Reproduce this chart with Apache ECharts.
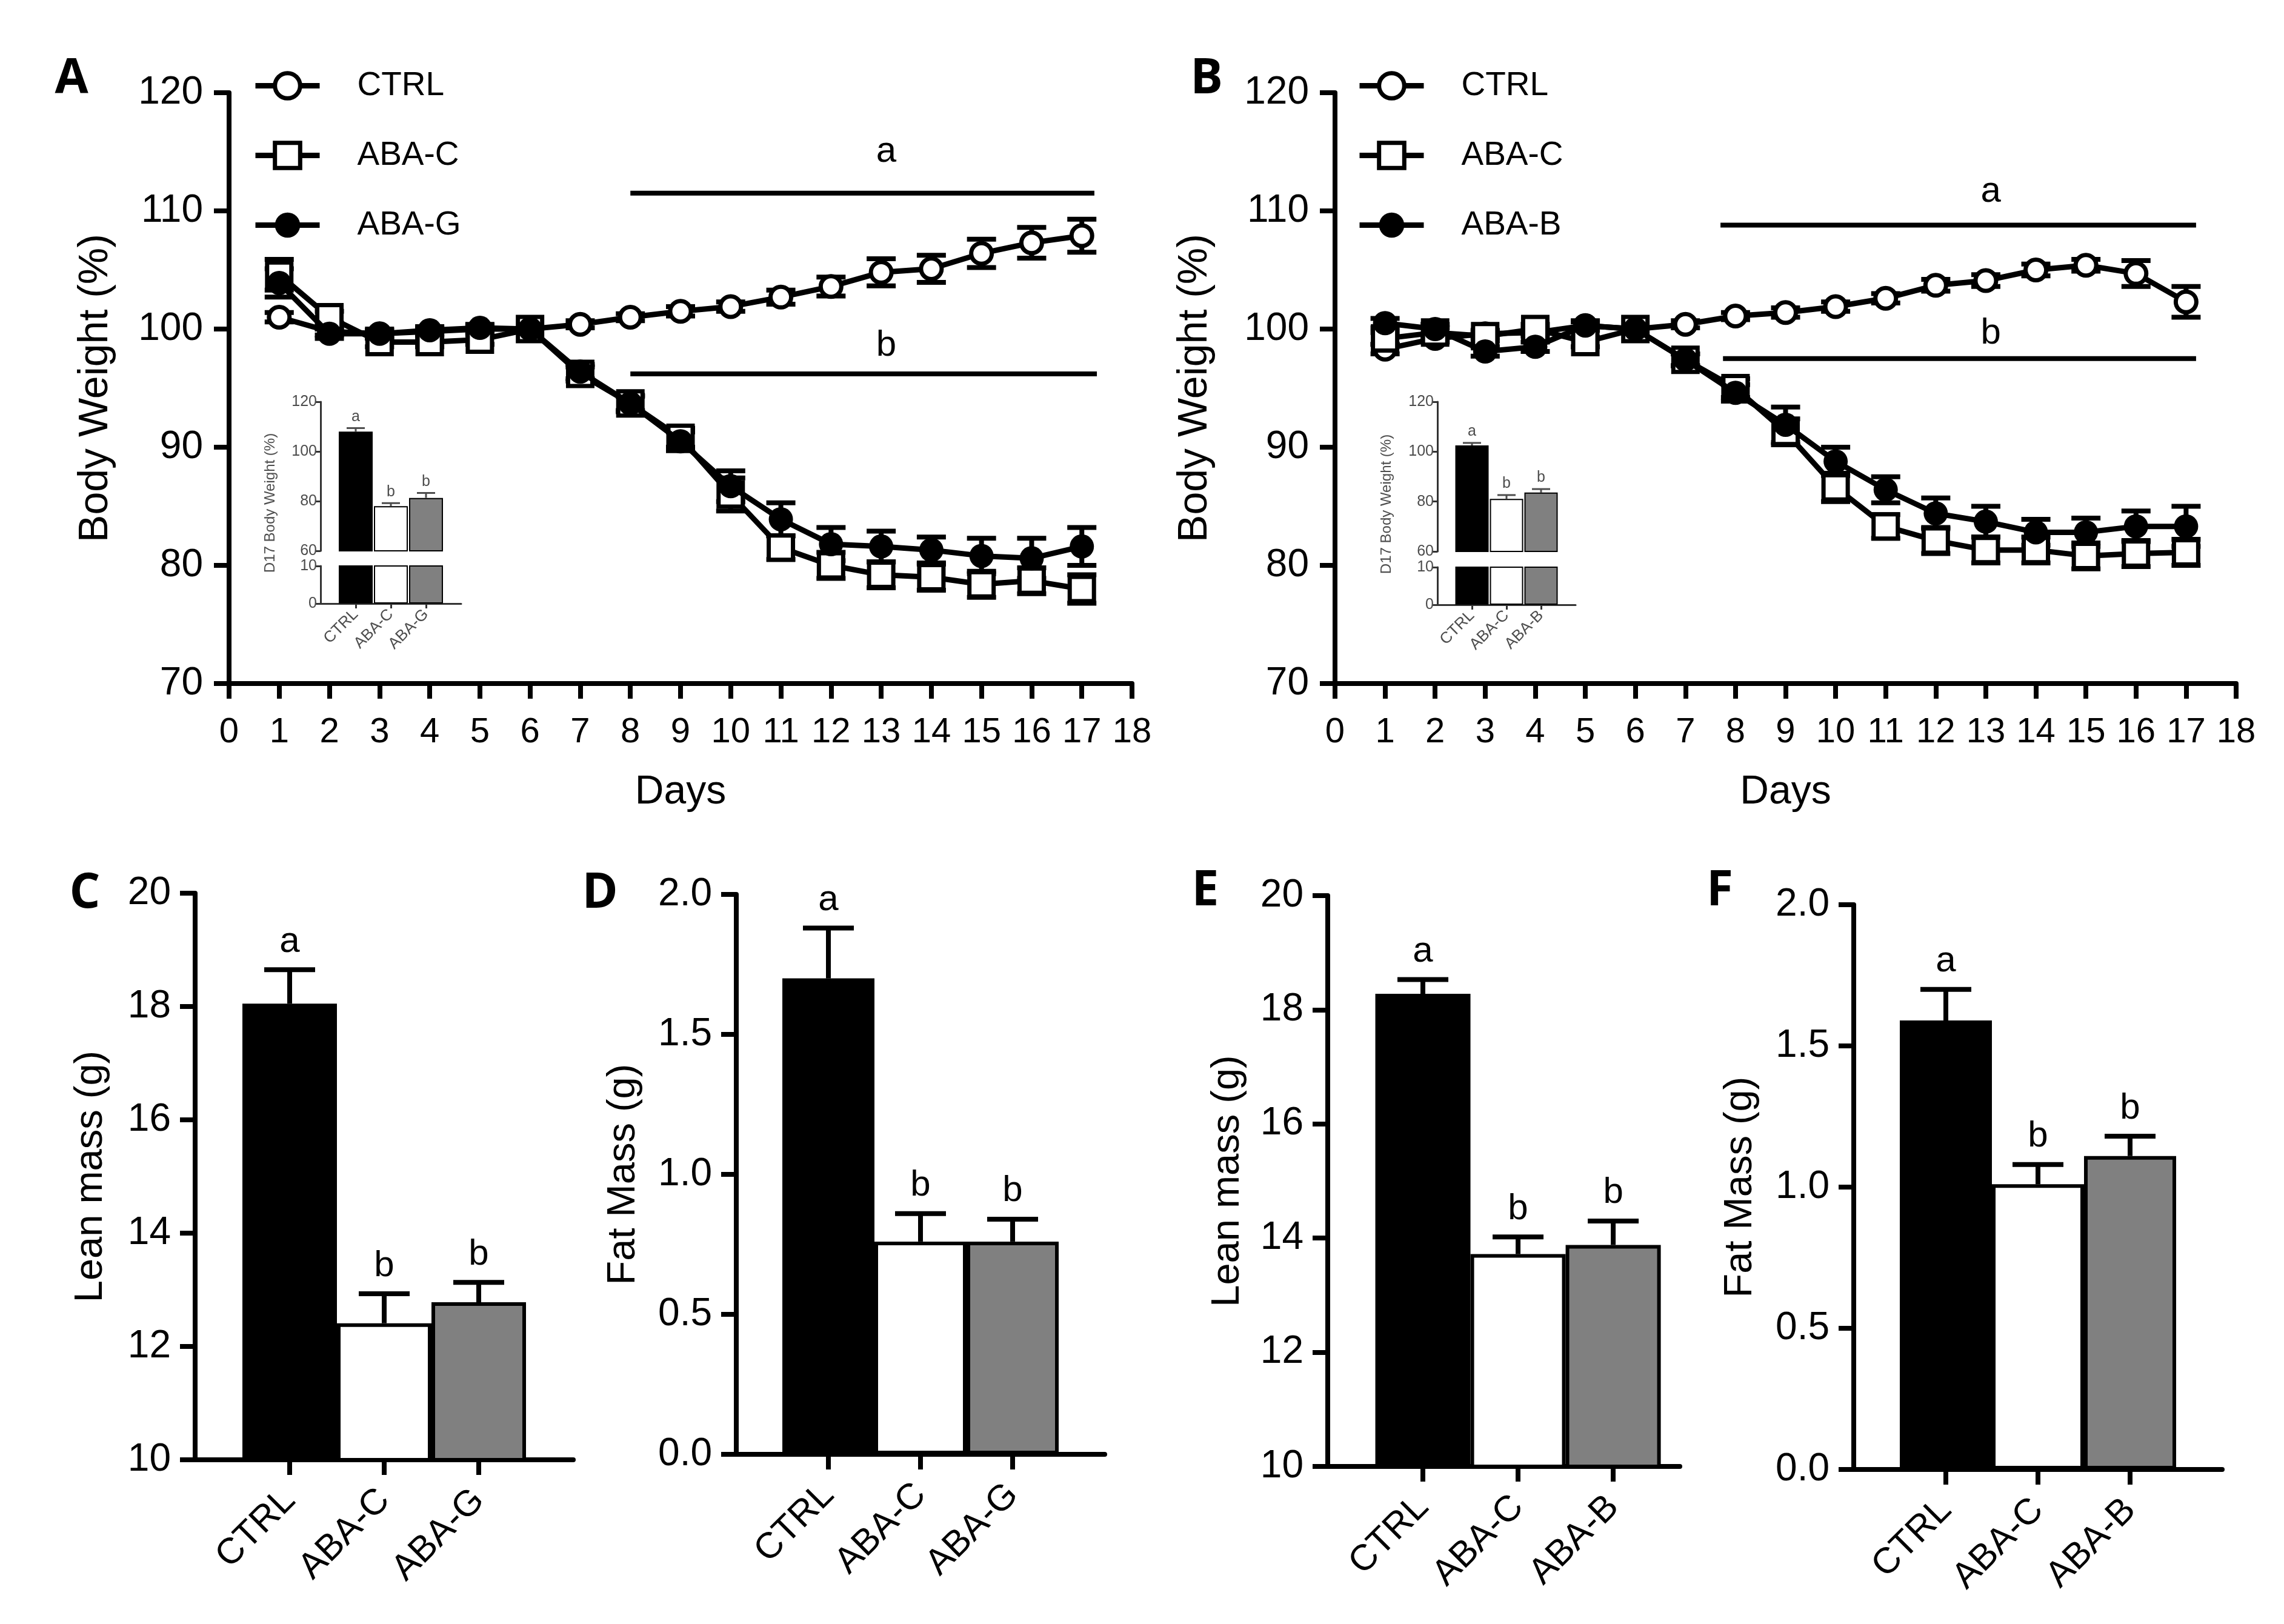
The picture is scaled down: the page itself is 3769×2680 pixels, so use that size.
<!DOCTYPE html>
<html>
<head>
<meta charset="utf-8">
<title>Body weight and body composition</title>
<script src="https://cdn.jsdelivr.net/npm/echarts@6/dist/echarts.min.js"></script>
<style>
html, body { margin: 0; padding: 0; background: #fff; }
#main { width: 3769px; height: 2680px; }
</style>
</head>
<body>
<div id="main"></div>
<script>
// days of the protocol
var days = [1, 2, 3, 4, 5, 6, 7, 8, 9, 10, 11, 12, 13, 14, 15, 16, 17];

// panel A: body weight (% of day 6)
var ctrlA = [101.0, 99.8, 99.6, 99.8, 100.0, 100.0, 100.4, 101.0, 101.5, 101.9, 102.7, 103.6, 104.8, 105.1, 106.4, 107.3, 107.9];
var ctrlAErr = [0.4, 0.3, 0.3, 0.3, 0.3, 0, 0.3, 0.3, 0.4, 0.4, 0.6, 0.8, 1.15, 1.15, 1.2, 1.3, 1.4];
var abacA = [104.6, 101.0, 98.9, 98.9, 99.1, 100.0, 96.2, 93.7, 90.8, 86.0, 81.5, 80.0, 79.2, 79.0, 78.4, 78.7, 78.0];
var abacAErr = [1.3, 0.5, 0.4, 0.4, 0.4, 0, 0.6, 0.6, 0.8, 1.4, 1.0, 1.1, 1.1, 1.1, 1.1, 1.1, 1.2];
var abagA = [103.9, 99.6, 99.6, 99.9, 100.1, 100.0, 96.4, 93.7, 90.5, 86.7, 83.9, 81.8, 81.6, 81.3, 80.8, 80.6, 81.6];
var abagAErr = [1.2, 0.4, 0.4, 0.3, 0.3, 0, 0.6, 0.7, 0.8, 1.3, 1.4, 1.4, 1.3, 1.1, 1.5, 1.7, 1.6];

// panel B
var ctrlB = [98.3, 99.2, 99.6, 99.7, 100.3, 100.0, 100.4, 101.1, 101.4, 101.9, 102.6, 103.7, 104.1, 105.0, 105.4, 104.7, 102.3];
var ctrlBErr = [0.4, 0.3, 0.3, 0.3, 0.3, 0, 0.3, 0.3, 0.4, 0.4, 0.4, 0.5, 0.5, 0.5, 0.5, 1.1, 1.3];
var abacB = [99.2, 99.7, 99.4, 100.0, 98.9, 100.0, 97.4, 95.0, 91.3, 86.6, 83.3, 82.1, 81.3, 81.3, 80.8, 81.0, 81.1];
var abacBErr = [0.5, 0.4, 0.4, 0.4, 0.4, 0, 0.5, 0.8, 1.1, 1.2, 1.0, 1.1, 1.1, 1.1, 1.1, 1.1, 1.1];
var ababB = [100.5, 100.0, 98.1, 98.5, 100.3, 100.0, 97.4, 94.6, 91.9, 88.8, 86.4, 84.4, 83.7, 82.8, 82.8, 83.3, 83.3];
var ababBErr = [0.4, 0.4, 0.4, 0.4, 0.4, 0, 0.5, 0.7, 1.5, 1.2, 1.1, 1.3, 1.3, 1.1, 1.2, 1.3, 1.7];

// significance bars over the curves
var sigText = ['a', 'b'];
var sigFromA = [8.0, 8.0], sigToA = [17.25, 17.3], sigYA = [111.5, 96.2], sigTextYA = [115.0, 98.6];
var sigFromB = [7.7, 7.75], sigToB = [17.2, 17.2], sigYB = [108.8, 97.5], sigTextYB = [111.6, 99.6];
var sigTextX = [13.1, 13.1];

// groups
var groupsG = ['CTRL', 'ABA-C', 'ABA-G'];
var groupsB = ['CTRL', 'ABA-C', 'ABA-B'];
var barFills = ['#000000', '#ffffff', '#808080'];
var letters = ['a', 'b', 'b'];

// insets: day 17 body weight (%)
var d17A = [108.0, 78.0, 81.3], d17AErr = [1.4, 1.2, 2.0];
var d17B = [102.5, 81.1, 83.6], d17BErr = [1.0, 1.5, 1.4];

// panels C-F: body composition (g)
var leanG = [18.05, 12.41, 12.78], leanGErr = [0.60, 0.52, 0.35];
var fatG = [1.70, 0.76, 0.76], fatGErr = [0.18, 0.10, 0.08];
var leanB = [18.28, 13.72, 13.88], leanBErr = [0.25, 0.30, 0.42];
var fatB = [1.59, 1.01, 1.11], fatBErr = [0.11, 0.07, 0.07];

var FONT = '"Liberation Sans", Arial, Helvetica, sans-serif';
var INK = '#000';
var INSET_INK = '#4d4d4d';

var chart = echarts.init(document.getElementById('main'));

function zip3(xs, ys, es) {
    var out = [];
    for (var i = 0; i < ys.length; i++) {
        out.push([xs[i], ys[i], es[i]]);
    }
    return out;
}

function barData(vals) {
    return vals.map(function (v, i) {
        return {value: [i + 1, v], itemStyle: {color: barFills[i]}};
    });
}

function errRender(capWidth, lineWidth, upOnly, labels, labelSize, labelGap, color) {
    return function (params, api) {
        var x = api.value(0), y = api.value(1), e = api.value(2);
        var hi = api.coord([x, y + e]);
        var lo = api.coord([x, upOnly ? y : y - e]);
        var half = capWidth / 2;
        var st = {stroke: color, lineWidth: lineWidth};
        var kids = [];
        if (e > 0) {
            kids.push({type: 'line', shape: {x1: hi[0], y1: hi[1], x2: lo[0], y2: lo[1]}, style: st});
            kids.push({type: 'line', shape: {x1: hi[0] - half, y1: hi[1], x2: hi[0] + half, y2: hi[1]}, style: st});
            if (!upOnly) {
                kids.push({type: 'line', shape: {x1: lo[0] - half, y1: lo[1], x2: lo[0] + half, y2: lo[1]}, style: st});
            }
        }
        if (labels) {
            kids.push({
                type: 'text', x: hi[0], y: hi[1] - labelGap,
                style: {text: labels[params.dataIndex], fill: color, fontSize: labelSize, fontFamily: FONT,
                        align: 'center', verticalAlign: 'bottom'}
            });
        }
        return {type: 'group', children: kids};
    };
}

function sigRender(from, to, yLine, yText) {
    return function (params, api) {
        var i = params.dataIndex;
        var a = api.coord([from[i], yLine[i]]);
        var b = api.coord([to[i], yLine[i]]);
        var t = api.coord([sigTextX[i], yText[i]]);
        return {type: 'group', children: [
            {type: 'line', shape: {x1: a[0], y1: a[1], x2: b[0], y2: b[1]}, style: {stroke: INK, lineWidth: 8}},
            {type: 'text', x: t[0], y: t[1], style: {text: sigText[i], fill: INK, fontSize: 60, fontFamily: FONT,
                align: 'center', verticalAlign: 'middle'}}
        ]};
    };
}

function errSeries(gi, data, render, z) {
    return {type: 'custom', xAxisIndex: gi, yAxisIndex: gi, data: data, renderItem: render,
            encode: {x: 0, y: 1}, silent: true, z: z};
}

// big axes for the weight curves
function dayAxis(gi) {
    return {
        type: 'value', gridIndex: gi, min: 0, max: 18, interval: 1,
        name: 'Days', nameLocation: 'middle', nameGap: 147,
        nameTextStyle: {fontSize: 66, color: INK, fontFamily: FONT},
        axisLine: {onZero: false, lineStyle: {color: INK, width: 8}},
        axisTick: {length: 25, lineStyle: {color: INK, width: 8}},
        axisLabel: {fontSize: 58, color: INK, fontFamily: FONT, margin: 52},
        splitLine: {show: false}
    };
}

function weightAxis(gi, gap) {
    return {
        type: 'value', gridIndex: gi, min: 70, max: 120, interval: 10,
        name: 'Body Weight (%)', nameLocation: 'middle', nameGap: gap,
        nameTextStyle: {fontSize: 68, color: INK, fontFamily: FONT},
        axisLine: {show: true, lineStyle: {color: INK, width: 8}},
        axisTick: {show: true, length: 25, lineStyle: {color: INK, width: 8}},
        axisLabel: {fontSize: 64, color: INK, fontFamily: FONT, margin: 43},
        splitLine: {show: false}
    };
}

// small inset axes
function insetXHidden(gi) {
    return {type: 'value', gridIndex: gi, min: 0, max: 4, show: false};
}
function insetX(gi, names) {
    return {
        type: 'value', gridIndex: gi, min: 0, max: 4,
        axisLine: {onZero: false, lineStyle: {color: '#333', width: 3}},
        axisTick: {customValues: [1, 2, 3], length: 8, lineStyle: {color: '#333', width: 3}},
        axisLabel: {customValues: [1, 2, 3], rotate: 45, fontSize: 26, color: INSET_INK, fontFamily: FONT, margin: 14,
                    formatter: function (v) { return names[Math.round(v) - 1]; }},
        splitLine: {show: false}
    };
}
function insetY(gi, min, max, step) {
    return {
        type: 'value', gridIndex: gi, min: min, max: max, interval: step,
        axisLine: {show: true, lineStyle: {color: '#333', width: 3}},
        axisTick: {show: true, length: 8, lineStyle: {color: '#333', width: 3}},
        axisLabel: {fontSize: 25, color: INSET_INK, fontFamily: FONT, margin: 6},
        splitLine: {show: false}
    };
}

// bar panel axes
function groupAxis(gi, names, max) {
    return {
        type: 'value', gridIndex: gi, min: 0, max: max,
        axisLine: {onZero: false, lineStyle: {color: INK, width: 8}},
        axisTick: {customValues: [1, 2, 3], length: 25, lineStyle: {color: INK, width: 8}},
        axisLabel: {customValues: [1, 2, 3], rotate: 45, fontSize: 60, color: INK, fontFamily: FONT, margin: 58,
                    formatter: function (v) { return names[Math.round(v) - 1]; }},
        splitLine: {show: false}
    };
}
function massAxis(gi, title, min, max, step, digits, gap) {
    return {
        type: 'value', gridIndex: gi, min: min, max: max, interval: step,
        name: title, nameLocation: 'middle', nameGap: gap,
        nameTextStyle: {fontSize: 65, color: INK, fontFamily: FONT},
        axisLine: {show: true, lineStyle: {color: INK, width: 8}},
        axisTick: {show: true, length: 25, lineStyle: {color: INK, width: 8}},
        axisLabel: {fontSize: 64, color: INK, fontFamily: FONT, margin: 40,
                    formatter: function (v) { return v.toFixed(digits); }},
        splitLine: {show: false}
    };
}

function curve(name, gi, ys, symbol, size, fill, z) {
    return {
        name: name, type: 'line', xAxisIndex: gi, yAxisIndex: gi,
        data: days.map(function (d, i) { return [d, ys[i]]; }),
        symbol: symbol, symbolSize: size, showAllSymbol: true,
        lineStyle: {color: INK, width: 9},
        itemStyle: {color: fill, borderColor: INK, borderWidth: fill === '#000' ? 0 : 7, opacity: 1},
        z: z
    };
}

function bars(gi, vals, width, border) {
    return {
        type: 'bar', xAxisIndex: gi, yAxisIndex: gi, data: barData(vals),
        barWidth: width, itemStyle: {borderColor: INK, borderWidth: border}, z: 2
    };
}

function legendFor(left, names) {
    return {
        orient: 'vertical', left: left, top: 114, padding: 0,
        itemWidth: 106, itemHeight: 52, itemGap: 60, selectedMode: false,
        data: names.map(function (n) {
            return n === 'CTRL' || n === 'ABA-C' ? {name: n} : {name: n, itemStyle: {borderWidth: 0}};
        }),
        itemStyle: {borderWidth: 7},
        lineStyle: {width: 9},
        textStyle: {fontSize: 55, color: INK, fontFamily: FONT, padding: [0, 0, 0, 57]}
    };
}

function panelLetter(t, x, y) {
    return {type: 'text', x: x, y: y, style: {text: t, fill: INK, fontSize: 80, fontWeight: 'bold',
            fontFamily: '"Open Sans", "Noto Sans", sans-serif', align: 'center', verticalAlign: 'middle'}};
}
function insetTitle(x, y) {
    return {type: 'text', x: x, y: y, rotation: Math.PI / 2,
            style: {text: 'D17 Body Weight (%)', fill: INSET_INK, fontSize: 24, fontFamily: FONT,
                    align: 'center', verticalAlign: 'middle'}};
}

// error bars on the weight curves: both directions, capped
var lineErr = errRender(48, 8, false, null, 0, 0, INK);

var option = {
    animation: false,
    backgroundColor: '#fff',
    grid: [
        {left: 378, top: 153, width: 1490, height: 975},
        {left: 529, top: 663, width: 232, height: 246},
        {left: 529, top: 934, width: 232, height: 62},
        {left: 2203, top: 153, width: 1487, height: 975},
        {left: 2372, top: 663, width: 228, height: 247},
        {left: 2372, top: 936, width: 228, height: 62},
        {left: 322, top: 1474, width: 624, height: 935},
        {left: 1215, top: 1476, width: 608, height: 924},
        {left: 2191, top: 1478, width: 581, height: 942},
        {left: 3059, top: 1493, width: 608, height: 932}
    ],
    xAxis: [
        dayAxis(0), insetXHidden(1), insetX(2, groupsG),
        dayAxis(3), insetXHidden(4), insetX(5, groupsB),
        groupAxis(6, groupsG, 4), groupAxis(7, groupsG, 4), groupAxis(8, groupsB, 3.7), groupAxis(9, groupsB, 4)
    ],
    yAxis: [
        weightAxis(0, 186), insetY(1, 60, 120, 20), insetY(2, 0, 10, 10),
        weightAxis(3, 197), insetY(4, 60, 120, 20), insetY(5, 0, 10, 10),
        massAxis(6, 'Lean mass (g)', 10, 20, 2, 0, 139),
        massAxis(7, 'Fat Mass (g)', 0, 2, 0.5, 1, 153),
        massAxis(8, 'Lean mass (g)', 10, 20, 2, 0, 132),
        massAxis(9, 'Fat Mass (g)', 0, 2, 0.5, 1, 154)
    ],
    legend: [legendFor(417, groupsG), legendFor(2239, groupsB)],
    graphic: [
        panelLetter('A', 118, 131), panelLetter('B', 1991, 131),
        panelLetter('C', 140, 1475), panelLetter('D', 990, 1475),
        panelLetter('E', 1989, 1471), panelLetter('F', 2838, 1471),
        insetTitle(446, 830), insetTitle(2288, 832)
    ],
    series: [
        // panel A
        errSeries(0, zip3(days, ctrlA, ctrlAErr), lineErr, 2),
        errSeries(0, zip3(days, abacA, abacAErr), lineErr, 2),
        errSeries(0, zip3(days, abagA, abagAErr), lineErr, 2),
        curve('CTRL', 0, ctrlA, 'circle', 34, '#fff', 3),
        curve('ABA-C', 0, abacA, 'rect', 40, '#fff', 4),
        curve('ABA-G', 0, abagA, 'circle', 40, '#000', 5),
        errSeries(0, sigYA.map(function (y, i) { return [sigFromA[i], y]; }), sigRender(sigFromA, sigToA, sigYA, sigTextYA), 6),
        // inset A
        bars(1, d17A, 56, 2), bars(2, d17A, 56, 2),
        errSeries(1, zip3([1, 2, 3], d17A, d17AErr), errRender(30, 3, true, letters, 25, 6, INSET_INK), 3),
        // panel B
        errSeries(3, zip3(days, ctrlB, ctrlBErr), lineErr, 2),
        errSeries(3, zip3(days, abacB, abacBErr), lineErr, 2),
        errSeries(3, zip3(days, ababB, ababBErr), lineErr, 2),
        curve('CTRL', 3, ctrlB, 'circle', 34, '#fff', 3),
        curve('ABA-C', 3, abacB, 'rect', 40, '#fff', 4),
        curve('ABA-B', 3, ababB, 'circle', 40, '#000', 5),
        errSeries(3, sigYB.map(function (y, i) { return [sigFromB[i], y]; }), sigRender(sigFromB, sigToB, sigYB, sigTextYB), 6),
        // inset B
        bars(4, d17B, 55, 2), bars(5, d17B, 55, 2),
        errSeries(4, zip3([1, 2, 3], d17B, d17BErr), errRender(30, 3, true, letters, 25, 6, INSET_INK), 3),
        // panels C-F
        bars(6, leanG, 156, 6),
        errSeries(6, zip3([1, 2, 3], leanG, leanGErr), errRender(84, 8, true, letters, 60, 16, INK), 1),
        bars(7, fatG, 152, 6),
        errSeries(7, zip3([1, 2, 3], fatG, fatGErr), errRender(84, 8, true, letters, 60, 16, INK), 1),
        bars(8, leanB, 157, 6),
        errSeries(8, zip3([1, 2, 3], leanB, leanBErr), errRender(84, 8, true, letters, 60, 16, INK), 1),
        bars(9, fatB, 152, 6),
        errSeries(9, zip3([1, 2, 3], fatB, fatBErr), errRender(84, 8, true, letters, 60, 16, INK), 1)
    ]
};

chart.setOption(option);
</script>
</body>
</html>
